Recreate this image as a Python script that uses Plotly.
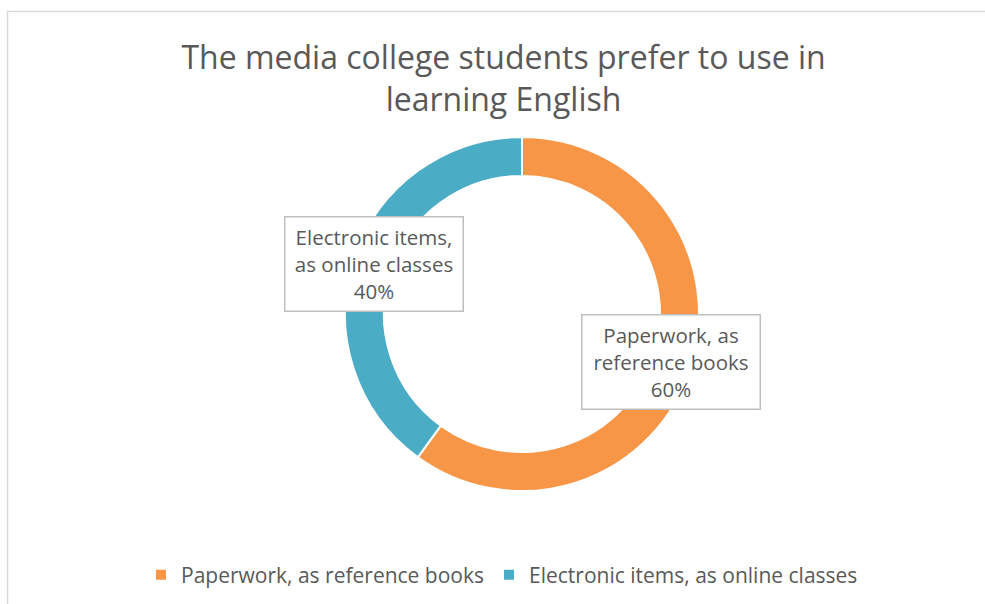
import plotly.graph_objects as go

categories = ["Paperwork, as reference books", "Electronic items, as online classes"]
label_lines = ["Paperwork, as<br>reference books", "Electronic items,<br>as online classes"]
values = [60, 40]
colors = ["#F79646", "#4BACC6"]
title_text = "The media college students prefer to use in<br>learning English"

W, H = 985, 604
cx, cy, r = 522, 314, 177

fig = go.Figure()
fig.add_trace(go.Pie(
    labels=categories,
    values=values,
    hole=0.78,
    sort=False,
    direction="clockwise",
    rotation=0,
    marker=dict(colors=colors, line=dict(color="white", width=2)),
    textinfo="none",
    hoverinfo="label+percent",
    domain=dict(x=[(cx - r) / W, (cx + r) / W], y=[1 - (cy + r) / H, 1 - (cy - r) / H]),
))

total = sum(values)
box_centers = [(670.5, 362), (374, 264)]
for lbl, v, (bx, by) in zip(label_lines, values, box_centers):
    fig.add_annotation(
        x=bx / W, y=1 - by / H, xref="paper", yref="paper",
        xanchor="center", yanchor="middle",
        text=f"{lbl}<br>{round(100 * v / total)}%",
        showarrow=False,
        font=dict(family="Open Sans", size=20.5, color="#595959"),
        bgcolor="white", bordercolor="#BFBFBF", borderwidth=1.5,
        width=175, height=91, align="center",
    )

fig.add_shape(type="rect", xref="paper", yref="paper",
              x0=7.5 / W, x1=1.05, y0=-0.05, y1=1 - 11.5 / H,
              line=dict(color="#D9D9D9", width=1.5), layer="below")

fig.update_layout(
    width=W, height=H,
    margin=dict(l=0, r=0, t=0, b=0),
    paper_bgcolor="white",
    title=dict(text=title_text, x=503.5 / W, xanchor="center", y=1 - 69 / H, yanchor="middle",
               font=dict(family="Open Sans", size=32, color="#595959")),
    legend=dict(orientation="h", x=502 / W, xanchor="center", y=1 - 575 / H, yanchor="middle",
                font=dict(family="Open Sans", size=21, color="#595959"),
                itemwidth=30, tracegroupgap=0),
    showlegend=True,
)

fig.write_html("out.html")
